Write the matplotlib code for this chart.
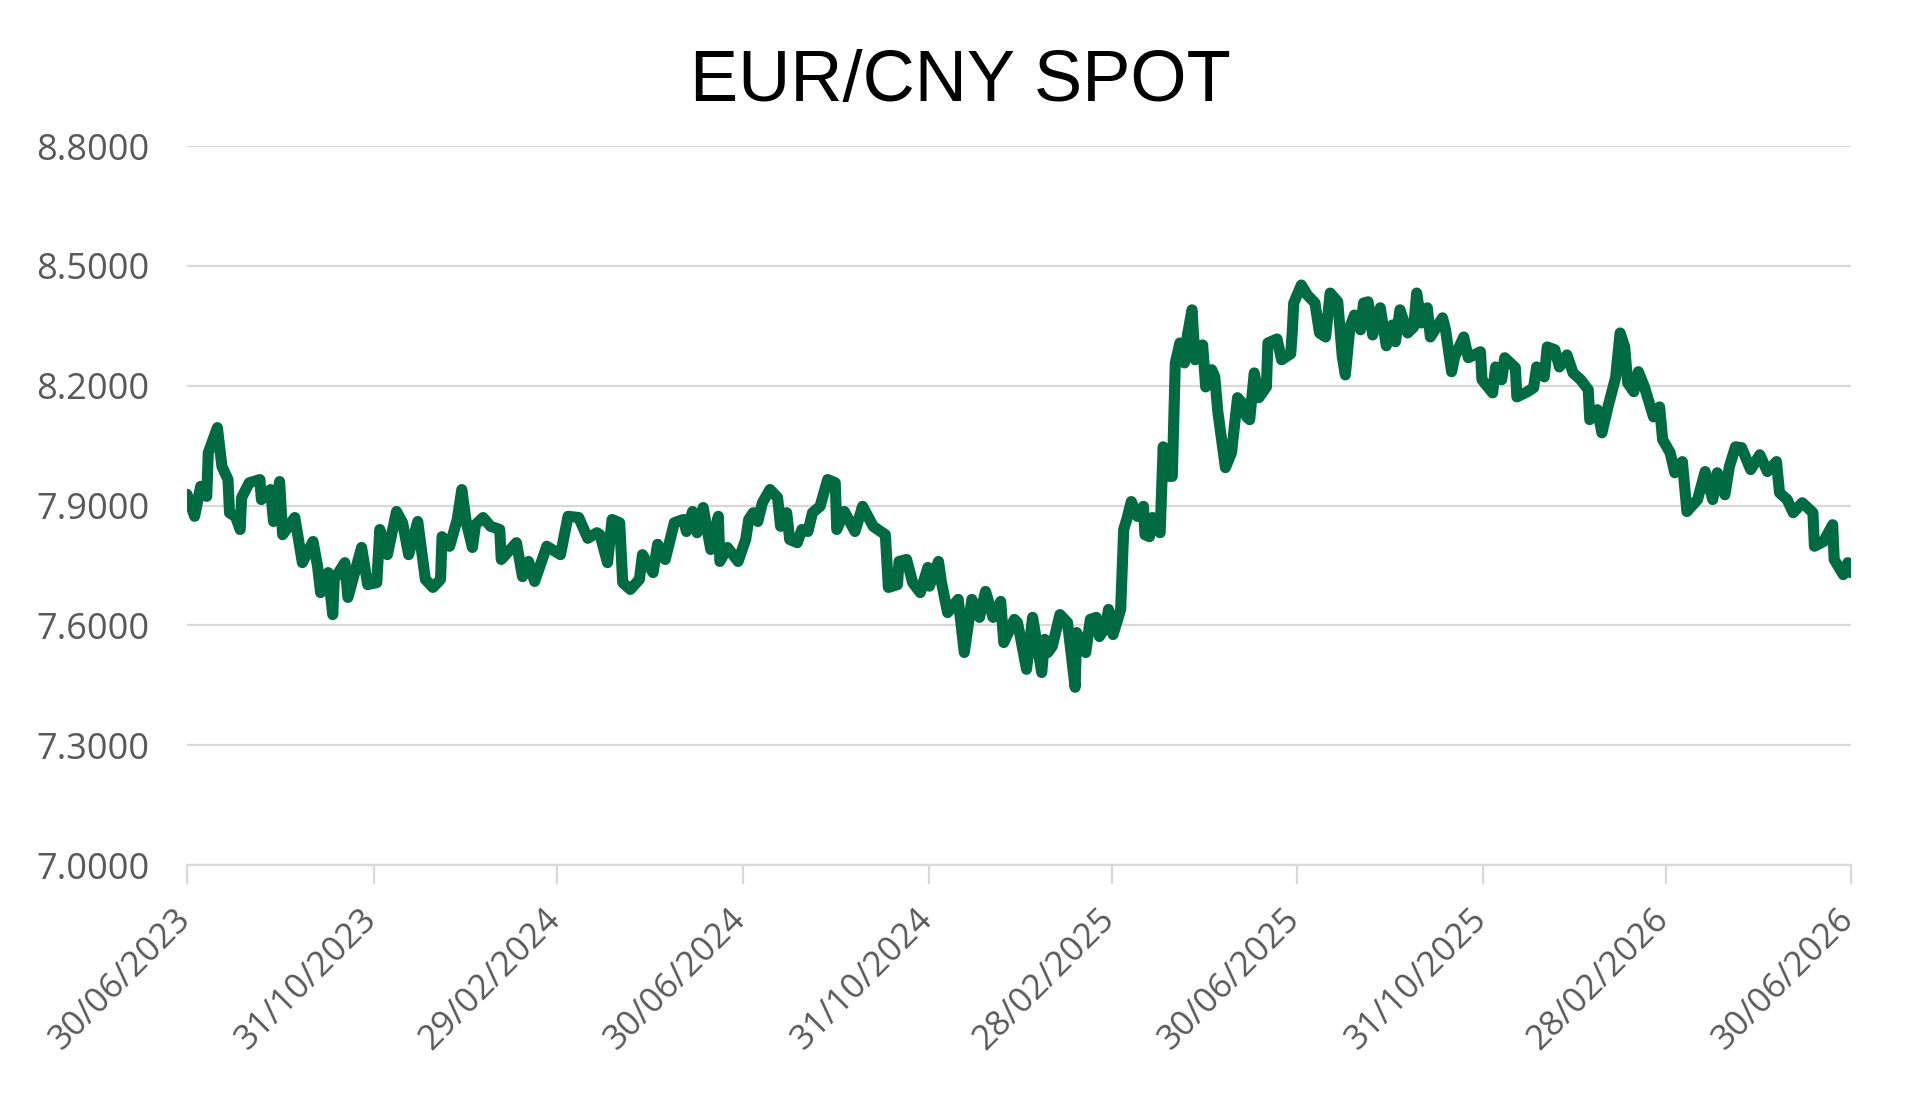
import pandas as pd
import matplotlib
matplotlib.use("Agg")
import matplotlib.pyplot as plt
import matplotlib.transforms as mtransforms

# EUR/CNY spot
start_date = "2023-06-30"
day_offsets = [
    0, 5, 9, 13, 14, 20, 23, 27, 28, 32,
    35, 36, 41, 48, 49, 55, 57, 61, 63, 71,
    76, 83, 86, 88, 93, 96, 97, 104, 106, 115,
    119, 125, 127, 132, 138, 142, 146, 152, 157, 162,
    167, 168, 173, 178, 181, 184, 188, 190, 195, 200,
    206, 207, 217, 221, 225, 229, 237, 246, 251, 258,
    264, 270, 272, 277, 280, 285, 287, 292, 298, 300,
    307, 310, 315, 321, 327, 329, 333, 336, 340, 345,
    350, 351, 356, 363, 368, 370, 373, 376, 379, 384,
    389, 391, 395, 397, 402, 405, 409, 412, 417, 422,
    427, 428, 433, 440, 445, 452, 460, 462, 468, 469,
    474, 478, 483, 488, 489, 495, 497, 501, 508, 512,
    517, 522, 526, 531, 536, 538, 545, 547, 549, 553,
    557, 563, 565, 567, 570, 575, 580, 585, 586, 592,
    595, 599, 601, 605, 607, 610, 615, 617, 619, 622,
    626, 630, 631, 634, 636, 641, 643, 646, 649, 651,
    654, 657, 659, 662, 664, 669, 671, 675, 677, 679,
    684, 688, 692, 695, 698, 700, 703, 706, 711, 712,
    718, 721, 727, 728, 729, 734, 738, 743, 746, 750,
    753, 758, 761, 763, 766, 769, 773, 775, 778, 781,
    786, 790, 794, 796, 799, 804, 808, 810, 813, 817,
    819, 827, 829, 833, 835, 841, 844, 852, 853, 860,
    862, 866, 868, 875, 876, 883, 887, 889, 894, 896,
    901, 904, 909, 913, 918, 923, 924, 929, 932, 936,
    941, 944, 947, 949, 953, 956, 960, 966, 970, 972,
    977, 980, 985, 988, 995, 1000, 1005, 1008, 1013, 1016,
    1020, 1024, 1030, 1036, 1041, 1047, 1049, 1054, 1058, 1064,
    1071, 1072, 1078, 1084, 1085, 1091, 1094, 1096,
]
spot = [
    7.928, 7.873, 7.948, 7.923, 8.032, 8.095, 7.998, 7.965, 7.882, 7.872,
    7.840, 7.920, 7.957, 7.965, 7.915, 7.940, 7.860, 7.960, 7.827, 7.870,
    7.757, 7.810, 7.748, 7.682, 7.732, 7.627, 7.715, 7.757, 7.670, 7.795,
    7.702, 7.707, 7.840, 7.777, 7.885, 7.857, 7.777, 7.860, 7.715, 7.695,
    7.715, 7.822, 7.798, 7.865, 7.940, 7.857, 7.795, 7.852, 7.870, 7.848,
    7.840, 7.765, 7.807, 7.722, 7.760, 7.710, 7.798, 7.777, 7.873, 7.870,
    7.818, 7.832, 7.827, 7.757, 7.865, 7.857, 7.707, 7.690, 7.715, 7.777,
    7.732, 7.803, 7.765, 7.857, 7.865, 7.835, 7.885, 7.832, 7.895, 7.790,
    7.873, 7.760, 7.795, 7.760, 7.815, 7.865, 7.882, 7.860, 7.907, 7.940,
    7.920, 7.848, 7.882, 7.815, 7.807, 7.840, 7.835, 7.882, 7.898, 7.965,
    7.957, 7.840, 7.885, 7.835, 7.898, 7.848, 7.827, 7.695, 7.702, 7.760,
    7.765, 7.707, 7.682, 7.745, 7.698, 7.760, 7.707, 7.632, 7.665, 7.532,
    7.665, 7.620, 7.685, 7.620, 7.660, 7.557, 7.615, 7.607, 7.570, 7.490,
    7.620, 7.482, 7.565, 7.532, 7.548, 7.627, 7.607, 7.445, 7.582, 7.532,
    7.615, 7.620, 7.572, 7.595, 7.640, 7.577, 7.640, 7.840, 7.865, 7.910,
    7.873, 7.898, 7.827, 7.822, 7.870, 7.832, 8.047, 7.973, 7.973, 8.257,
    8.307, 8.257, 8.327, 8.390, 8.265, 8.302, 8.197, 8.240, 8.222, 8.135,
    7.995, 8.032, 8.170, 8.157, 8.122, 8.115, 8.232, 8.170, 8.197, 8.307,
    8.317, 8.265, 8.280, 8.332, 8.407, 8.452, 8.427, 8.407, 8.332, 8.322,
    8.432, 8.410, 8.272, 8.227, 8.347, 8.377, 8.340, 8.407, 8.410, 8.327,
    8.395, 8.300, 8.352, 8.310, 8.390, 8.332, 8.347, 8.432, 8.357, 8.395,
    8.322, 8.370, 8.340, 8.235, 8.272, 8.322, 8.270, 8.285, 8.215, 8.182,
    8.247, 8.215, 8.270, 8.245, 8.172, 8.185, 8.195, 8.247, 8.222, 8.297,
    8.290, 8.247, 8.277, 8.232, 8.215, 8.190, 8.115, 8.140, 8.082, 8.147,
    8.220, 8.332, 8.297, 8.207, 8.185, 8.235, 8.197, 8.122, 8.147, 8.065,
    8.032, 7.982, 8.010, 7.885, 7.915, 7.985, 7.915, 7.982, 7.927, 7.998,
    8.047, 8.045, 7.990, 8.027, 7.985, 8.010, 7.932, 7.915, 7.882, 7.907,
    7.882, 7.798, 7.810, 7.852, 7.765, 7.727, 7.757, 7.732,
]

tick_dates = ["2023-06-30", "2023-10-31", "2024-02-29", "2024-06-30", "2024-10-31",
              "2025-02-28", "2025-06-30", "2025-10-31", "2026-02-28", "2026-06-30"]
tick_labels = ["30/06/2023", "31/10/2023", "29/02/2024", "30/06/2024", "31/10/2024",
               "28/02/2025", "30/06/2025", "31/10/2025", "28/02/2026", "30/06/2026"]
y_ticks = [7.0, 7.3, 7.6, 7.9, 8.2, 8.5, 8.8]

dates = pd.Timestamp(start_date) + pd.to_timedelta(day_offsets, unit="D")

label_color = "#595959"
grid_color = "#d9d9d9"

fig = plt.figure(figsize=(19.2, 10.94), dpi=100)
ax = fig.add_axes([0.0974, 0.2093, 0.8666, 0.6572])

ax.plot(dates, spot, color="#006b42", linewidth=8,
        solid_joinstyle="round", solid_capstyle="round")

ax.set_xlim(pd.Timestamp(tick_dates[0]), pd.Timestamp(tick_dates[-1]))
ax.set_ylim(7.0, 8.8)

ax.set_yticks(y_ticks)
ax.set_yticklabels([f"{v:.4f}" for v in y_ticks])
ax.yaxis.grid(True, color=grid_color, linewidth=1.6)
ax.set_axisbelow(True)

ax.set_xticks(pd.to_datetime(tick_dates))
ax.set_xticklabels(tick_labels, rotation=45, ha="right")

for side in ["top", "right", "left"]:
    ax.spines[side].set_visible(False)
ax.spines["bottom"].set_color(grid_color)
ax.spines["bottom"].set_linewidth(1.6)

ax.tick_params(axis="y", length=0, pad=27, labelsize=26, labelcolor=label_color)
ax.tick_params(axis="x", length=14, width=1.6, color=grid_color, pad=13,
               labelsize=25, labelcolor=label_color)
for lab in ax.get_yticklabels() + ax.get_xticklabels():
    lab.set_fontfamily("Open Sans")

# nudge the rotated date labels a little to the right, like the original
shift = mtransforms.ScaledTranslation(10 / 100, 0, fig.dpi_scale_trans)
for lab in ax.get_xticklabels():
    lab.set_transform(lab.get_transform() + shift)

fig.text(0.5, 0.925, "EUR/CNY SPOT", ha="center", va="center",
         fontsize=52, family="Liberation Sans", color="black")

fig.savefig("out.png", dpi=100, facecolor="white")
